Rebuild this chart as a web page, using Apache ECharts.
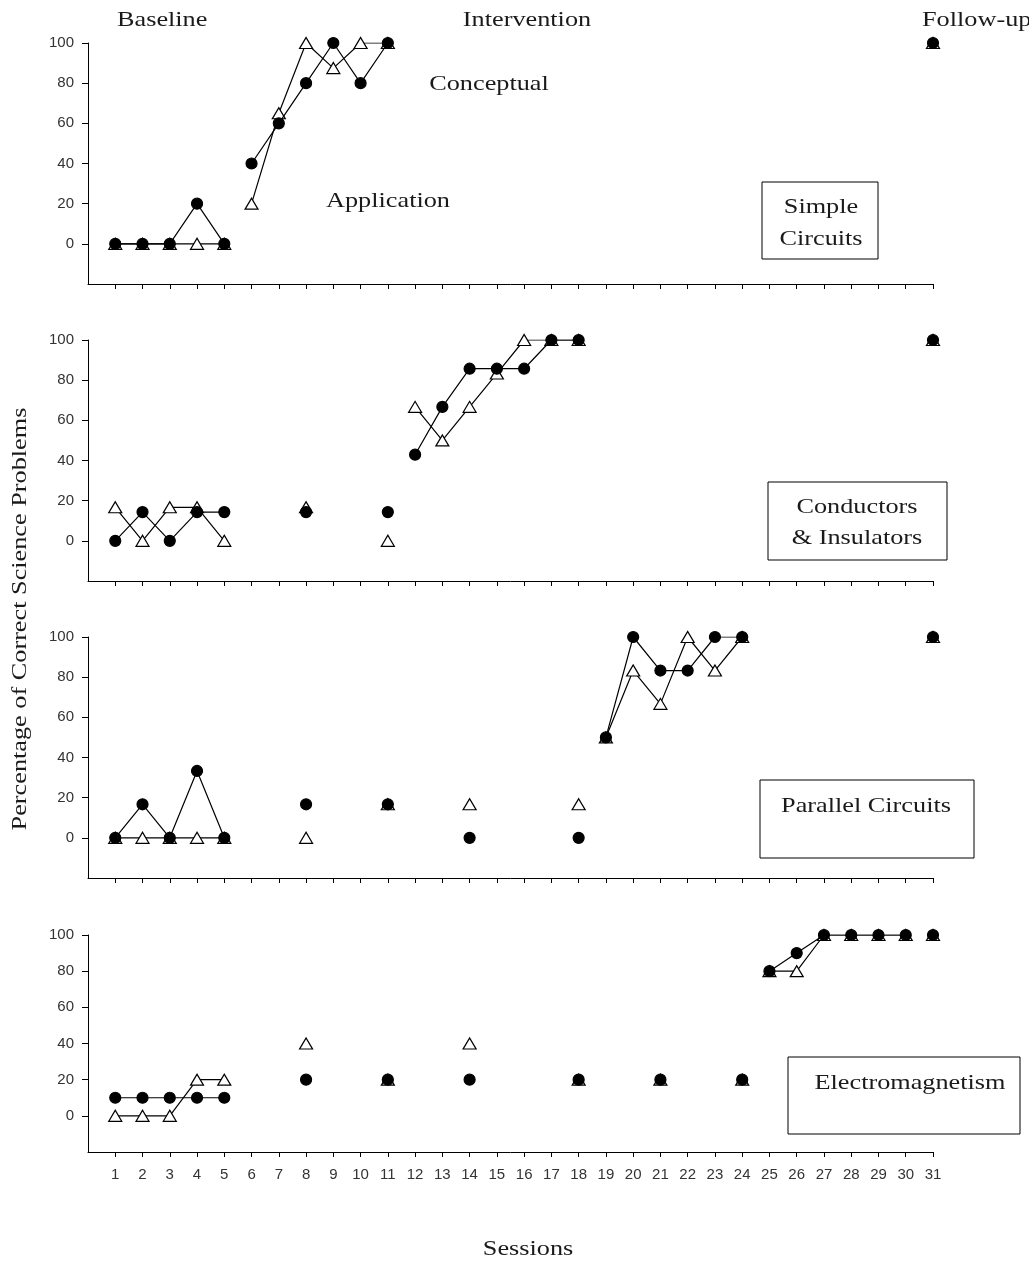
<!DOCTYPE html>
<html>
<head>
<meta charset="utf-8">
<title>Percentage of Correct Science Problems by Session</title>
<script src="https://cdn.jsdelivr.net/npm/echarts@6/dist/echarts.min.js"></script>
<style>
  html, body { margin: 0; padding: 0; background: #fff; }
  #chart { width: 1029px; height: 1262px; }
</style>
</head>
<body>
<div id="chart"></div>
<script>
// Tick labels
const sessionTicks = [1,2,3,4,5,6,7,8,9,10,11,12,13,14,15,16,17,18,19,20,21,22,23,24,25,26,27,28,29,30,31];
const percentTicks = [0, 20, 40, 60, 80, 100];

// Simple Circuits
const simpleSessions = [1, 2, 3, 4, 5, 6, 7, 8, 9, 10, 11, 31];
const simpleCircle   = [0, 0, 0, 20, 0, 40, 60, 80, 100, 80, 100, 100];
const simpleTriangle = [0, 0, 0, 0, 0, 20, 65, 100, 87.5, 100, 100, 100];
const simpleRuns = [[1, 5], [6, 11], [31, 31]];

// Conductors & Insulators
const conductSessions = [1, 2, 3, 4, 5, 8, 11, 12, 13, 14, 15, 16, 17, 18, 31];
const conductCircle   = [0, 14.3, 0, 14.3, 14.3, 14.3, 14.3, 42.9, 66.7, 85.7, 85.7, 85.7, 100, 100, 100];
const conductTriangle = [16.7, 0, 16.7, 16.7, 0, 16.7, 0, 66.7, 50, 66.7, 83.3, 100, 100, 100, 100];
const conductRuns = [[1, 5], [8, 8], [11, 11], [12, 18], [31, 31]];

// Parallel Circuits
const parallelSessions = [1, 2, 3, 4, 5, 8, 11, 14, 18, 19, 20, 21, 22, 23, 24, 31];
const parallelCircle   = [0, 16.7, 0, 33.3, 0, 16.7, 16.7, 0, 0, 50, 100, 83.3, 83.3, 100, 100, 100];
const parallelTriangle = [0, 0, 0, 0, 0, 0, 16.7, 16.7, 16.7, 50, 83.3, 66.7, 100, 83.3, 100, 100];
const parallelRuns = [[1, 5], [8, 8], [11, 11], [14, 14], [18, 18], [19, 24], [31, 31]];

// Electromagnetism
const emSessions = [1, 2, 3, 4, 5, 8, 11, 14, 18, 21, 24, 25, 26, 27, 28, 29, 30, 31];
const emCircle   = [10, 10, 10, 10, 10, 20, 20, 20, 20, 20, 20, 80, 90, 100, 100, 100, 100, 100];
const emTriangle = [0, 0, 0, 20, 20, 40, 20, 40, 20, 20, 20, 80, 80, 100, 100, 100, 100, 100];
const emRuns = [[1, 5], [8, 8], [11, 11], [14, 14], [18, 18], [21, 21], [24, 24], [25, 30], [31, 31]];

const panels = [
  { sessions: simpleSessions, circle: simpleCircle, triangle: simpleTriangle, runs: simpleRuns },
  { sessions: conductSessions, circle: conductCircle, triangle: conductTriangle, runs: conductRuns },
  { sessions: parallelSessions, circle: parallelCircle, triangle: parallelTriangle, runs: parallelRuns },
  { sessions: emSessions, circle: emCircle, triangle: emTriangle, runs: emRuns }
];

const gridTops = [43, 340, 637, 935];
const gridHeights = [241, 241, 241, 217];

const SERIF = '"Liberation Serif", "Times New Roman", serif';
const SANS = '"Liberation Sans", Arial, sans-serif';

const grids = [], xAxes = [], yAxes = [], series = [];

panels.forEach((p, i) => {
  grids.push({ left: 88, top: gridTops[i], width: 845, height: gridHeights[i] });
  xAxes.push({
    type: 'value', gridIndex: i, min: 0, max: 31, interval: 1,
    position: 'bottom',
    axisLine: { onZero: false, lineStyle: { color: '#000', width: 1 } },
    axisTick: { show: true, inside: false, length: 5, lineStyle: { color: '#000' }, customValues: sessionTicks },
    axisLabel: {
      show: i === 3, customValues: sessionTicks, margin: 15,
      fontFamily: SANS, fontSize: 15, color: '#333'
    },
    splitLine: { show: false }
  });
  yAxes.push({
    type: 'value', gridIndex: i, min: -20, max: 100, interval: 20,
    axisLine: { show: true, onZero: false, lineStyle: { color: '#000', width: 1 } },
    axisTick: { show: true, inside: false, length: 6, lineStyle: { color: '#000' }, customValues: percentTicks },
    axisLabel: { customValues: percentTicks, margin: 14, fontFamily: SANS, fontSize: 15, color: '#333' },
    splitLine: { show: false }
  });

  const measures = [
    { values: p.triangle, symbol: 'triangle', size: [13, 11], fill: '#fff', z: 3 },
    { values: p.circle, symbol: 'circle', size: 11, fill: '#000', z: 4 }
  ];
  measures.forEach(m => {
    p.runs.forEach(([a, b]) => {
      const data = [];
      p.sessions.forEach((s, k) => { if (s >= a && s <= b) data.push([s, m.values[k]]); });
      series.push({
        type: 'line', xAxisIndex: i, yAxisIndex: i, data: data,
        symbol: m.symbol, symbolSize: m.size, showSymbol: true, z: m.z,
        lineStyle: { color: '#000', width: 1.2 },
        itemStyle: { color: m.fill, borderColor: '#000', borderWidth: 1.2 },
        emphasis: { disabled: true },
        silent: true
      });
    });
  });
});

// Serif annotation text, set slightly wide
const TEXT_STRETCH = 1.25;
function label(text, x, y, align, rotation) {
  return {
    type: 'text', x: x, y: y, z: 10, scaleX: TEXT_STRETCH, rotation: rotation || 0,
    style: { text: text, font: '21px ' + SERIF, fill: '#1a1a1a', align: align || 'center', verticalAlign: 'middle' }
  };
}
function box(x, y, w, h) {
  return { type: 'rect', shape: { x: x, y: y, width: w, height: h }, z: 9,
    style: { fill: '#fff', stroke: '#000', lineWidth: 1 } };
}

const graphics = [
  label('Baseline', 117, 20, 'left'),
  label('Intervention', 527, 20),
  label('Follow-up', 922, 20, 'left'),
  label('Conceptual', 489, 84),
  label('Application', 388, 201),
  box(762, 182, 116, 77), label('Simple', 821, 207), label('Circuits', 821, 239),
  box(768, 482, 179, 78), label('Conductors', 857, 507), label('& Insulators', 857, 538),
  box(760, 780, 214, 78), label('Parallel Circuits', 866, 806),
  box(788, 1057, 232, 77), label('Electromagnetism', 910, 1083),
  label('Sessions', 528, 1249),
  label('Percentage of Correct Science Problems', 20, 619, 'center', Math.PI / 2)
];

const chart = echarts.init(document.getElementById('chart'), null, { renderer: 'canvas' });
chart.setOption({
  animation: false,
  backgroundColor: '#fff',
  grid: grids,
  xAxis: xAxes,
  yAxis: yAxes,
  series: series,
  graphic: graphics
});
</script>
</body>
</html>
